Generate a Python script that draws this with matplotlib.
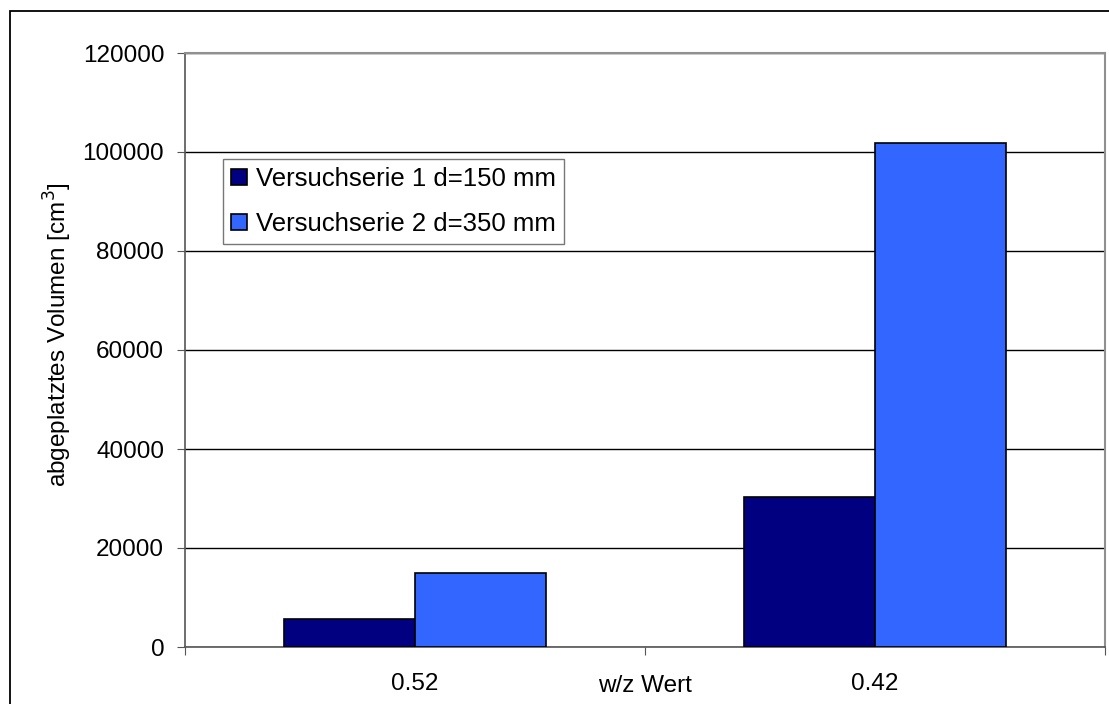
import numpy as np
import matplotlib.pyplot as plt
import matplotlib.patches as patches

plt.rcParams['font.family'] = ['Liberation Sans', 'DejaVu Sans']

categories = ['0.52', '0.42']
serie1 = [5600, 30300]
serie2 = [15000, 101800]
labels = ['Versuchserie 1 d=150 mm', 'Versuchserie 2 d=350 mm']

fig = plt.figure(figsize=(11.09, 7.04), dpi=100)
ax = fig.add_axes([185 / 1109, 1 - 647 / 704, 920 / 1109, 594 / 704])

x = np.arange(len(categories))
w = 0.285
ax.bar(x - w / 2, serie1, w, color='#000080', edgecolor='black', linewidth=1.2,
       label=labels[0], zorder=3)
ax.bar(x + w / 2, serie2, w, color='#3366FF', edgecolor='black', linewidth=1.2,
       label=labels[1], zorder=3)

ax.set_xlim(-0.5, 1.5)
ax.set_ylim(0, 120000)
ax.set_yticks(np.arange(0, 120001, 20000))
ax.yaxis.grid(True, color='black', linewidth=1)
ax.set_axisbelow(True)

# Kategorie-Grenzen als Hauptticks, Kategorien als Nebenticks
ax.set_xticks([-0.5, 0.5, 1.5])
ax.set_xticklabels(['', 'w/z Wert', ''])
ax.set_xticks(x, minor=True)
ax.set_xticklabels(categories, minor=True)
ax.tick_params(axis='x', which='minor', length=0, pad=19, labelsize=17.5)
ax.tick_params(axis='x', which='major', length=6, color='#555555', pad=14, labelsize=17.5)
ax.tick_params(axis='y', length=6, color='#555555', labelsize=17.5, pad=9)

for s in ['top', 'right']:
    ax.spines[s].set_color('#909090')
    ax.spines[s].set_linewidth(1.5)
for s in ['left', 'bottom']:
    ax.spines[s].set_color('#555555')
    ax.spines[s].set_linewidth(1.2)

ax.set_ylabel('abgeplatztes Volumen [cm$^3$]', fontsize=17.5)
ax.yaxis.set_label_coords(-0.121, 0.525)

leg = ax.legend(loc='upper left', bbox_to_anchor=(38 / 920, 1 - 106 / 594),
                fontsize=18.5, frameon=True, fancybox=False, handlelength=0.6,
                handleheight=0.6, handletextpad=0.35, borderpad=0.32,
                labelspacing=0.8, borderaxespad=0)
leg.get_frame().set_edgecolor('#555555')
leg.get_frame().set_linewidth(1)

# Rahmen um die Grafik
fig.patches.append(patches.Rectangle((10 / 1109, -0.1), 1.2, 1.1 - 11 / 704,
                                     transform=fig.transFigure, fill=False,
                                     edgecolor='black', linewidth=1.3))

fig.savefig('out.png', dpi=100)
